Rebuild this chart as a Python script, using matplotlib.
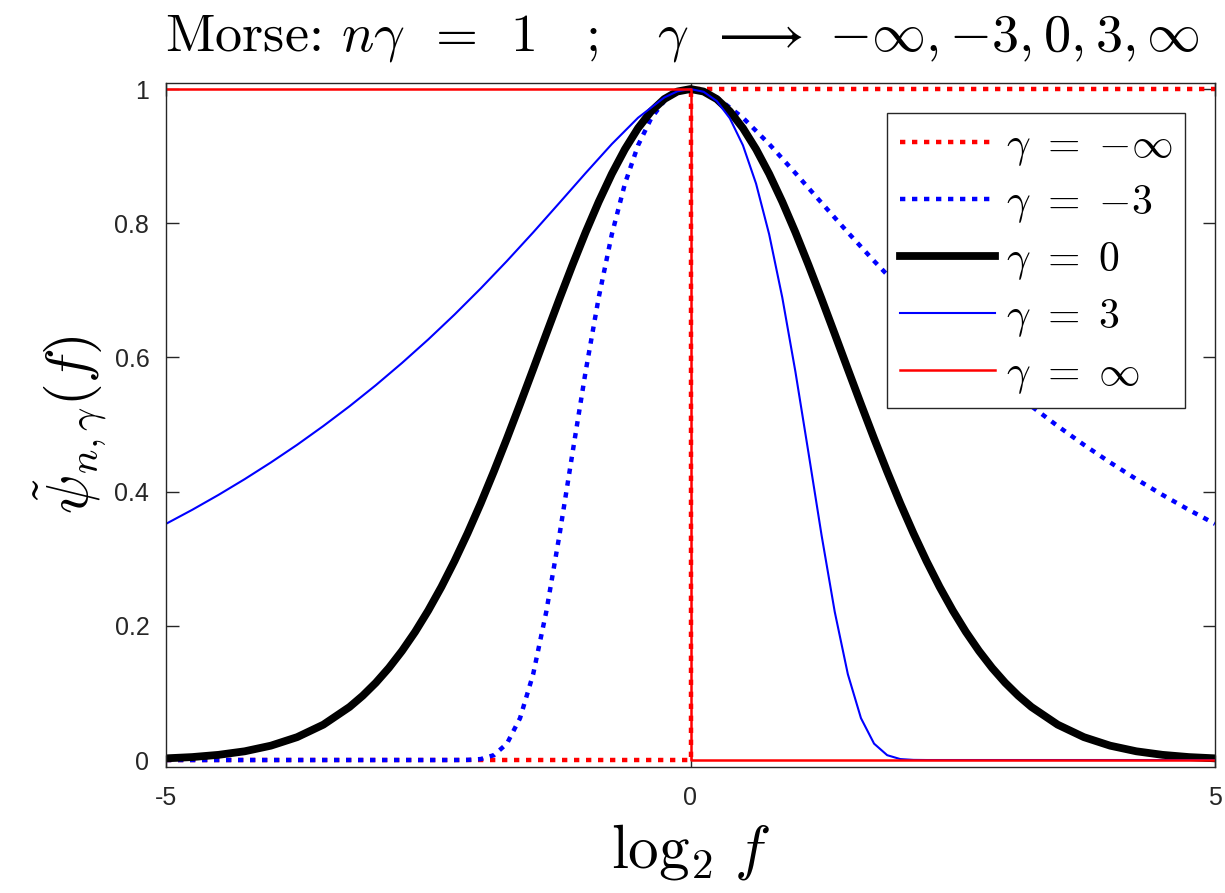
import matplotlib
matplotlib.use("Agg")
import matplotlib.pyplot as plt

plt.rcParams['mathtext.fontset'] = 'cm'
plt.rcParams['font.family'] = ['Liberation Sans', 'DejaVu Sans']

# log2 f grid for the gamma = 0 curve
x_g0 = [-5, -4.75, -4.5, -4.25, -4, -3.75, -3.5, -3.25, -3.125, -3, -2.875,
        -2.75, -2.625, -2.5, -2.375, -2.25, -2.125, -2, -1.875, -1.75,
        -1.625, -1.5, -1.375, -1.25, -1.125, -1, -0.875, -0.75, -0.625,
        -0.5, -0.375, -0.25, -0.125, 0,
        0.125, 0.25, 0.375, 0.5, 0.625, 0.75, 0.875, 1, 1.125, 1.25, 1.375,
        1.5, 1.625, 1.75, 1.875, 2, 2.125, 2.25, 2.375, 2.5, 2.625, 2.75,
        2.875, 3, 3.125, 3.25, 3.5, 3.75, 4, 4.25, 4.5, 4.75, 5]
y_g0 = [0.0025, 0.0044, 0.0077, 0.0130, 0.0214, 0.0341, 0.0527, 0.0791,
        0.0958, 0.1151, 0.1373, 0.1626, 0.1910, 0.2228, 0.2579, 0.2964,
        0.3380, 0.3825, 0.4298, 0.4792, 0.5303, 0.5824, 0.6350, 0.6871,
        0.7378, 0.7865, 0.8320, 0.8736, 0.9104, 0.9417, 0.9668, 0.9851,
        0.9963, 1.0,
        0.9963, 0.9851, 0.9668, 0.9417, 0.9104, 0.8736, 0.8320, 0.7865,
        0.7378, 0.6871, 0.6350, 0.5824, 0.5303, 0.4792, 0.4298, 0.3825,
        0.3380, 0.2964, 0.2579, 0.2228, 0.1910, 0.1626, 0.1373, 0.1151,
        0.0958, 0.0791, 0.0527, 0.0341, 0.0214, 0.0130, 0.0077, 0.0044,
        0.0025]

# gamma = 3
x_g3 = [-5, -4.75, -4.5, -4.25, -4, -3.75, -3.5, -3.25, -3, -2.75, -2.5,
        -2.25, -2, -1.75, -1.5, -1.25, -1, -0.75, -0.5, -0.25, -0.125, 0,
        0.125, 0.25, 0.375, 0.5, 0.625, 0.75, 0.875, 1, 1.125, 1.25, 1.375,
        1.5, 1.625, 1.75, 1.875, 2, 2.125, 2.25, 2.5, 3, 4, 5]
y_g3 = [0.3520, 0.3729, 0.3951, 0.4186, 0.4435, 0.4698, 0.4978, 0.5273,
        0.5586, 0.5918, 0.6268, 0.6638, 0.7028, 0.7437, 0.7863, 0.8303,
        0.8747, 0.9180, 0.9572, 0.9874, 0.9966, 1.0,
        0.9959, 0.9822, 0.9564, 0.9161, 0.8590, 0.7834, 0.6893, 0.5788,
        0.4576, 0.3345, 0.2209, 0.1279, 0.0624, 0.0244, 0.0072, 0.0014,
        0.0002, 0.0, 0.0, 0.0, 0.0, 0.0]

# gamma = -3
x_gm3 = [-5, -4, -3, -2.5, -2.25, -2.125, -2, -1.875, -1.75, -1.625, -1.5,
         -1.375, -1.25, -1.125, -1, -0.875, -0.75, -0.625, -0.5, -0.375,
         -0.25, -0.125, 0, 0.125, 0.25, 0.5, 0.75, 1, 1.25, 1.5, 1.75, 2,
         2.25, 2.5, 2.75, 3, 3.25, 3.5, 3.75, 4, 4.25, 4.5, 4.75, 5]
y_gm3 = [0.0, 0.0, 0.0, 0.0, 0.0, 0.0002, 0.0014, 0.0072, 0.0244, 0.0624,
         0.1279, 0.2209, 0.3345, 0.4576, 0.5788, 0.6893, 0.7834, 0.8590,
         0.9161, 0.9564, 0.9822, 0.9959, 1.0,
         0.9966, 0.9874, 0.9572, 0.9180, 0.8747, 0.8303, 0.7863, 0.7437,
         0.7028, 0.6638, 0.6268, 0.5918, 0.5586, 0.5273, 0.4978, 0.4698,
         0.4435, 0.4186, 0.3951, 0.3729, 0.3520]

# gamma -> +/- infinity: step functions
x_inf = [-5, 0, 0, 5]
y_inf = [1, 1, 0, 0]
y_minf = [0, 0, 1, 1]

fig = plt.figure(figsize=(12.25, 8.93), dpi=100)
ax = fig.add_axes([166/1225, 1 - 767/893, 1049/1225, 684/893])

ax.plot(x_inf, y_minf, color='red', lw=3.2, dashes=(1.2, 1.5),
        label=r'$\gamma\ =\ {-}\infty$')
ax.plot(x_gm3, y_gm3, color='blue', lw=3.2, dashes=(1.2, 1.5),
        label=r'$\gamma\ =\ {-}3$')
ax.plot(x_g0, y_g0, color='black', lw=5.6, solid_joinstyle='round',
        label=r'$\gamma\ =\ 0$')
ax.plot(x_g3, y_g3, color='blue', lw=1.5, label=r'$\gamma\ =\ 3$')
ax.plot(x_inf, y_inf, color='red', lw=1.8, label=r'$\gamma\ =\ \infty$')

ax.set_xlim(-5, 5)
ax.set_ylim(-0.0104, 1.009)
ax.set_xticks([-5, 0, 5])
ax.set_xticklabels(['-5', '0', '5'])
ax.set_yticks([0, 0.2, 0.4, 0.6, 0.8, 1])
ax.set_yticklabels(['0', '0.2', '0.4', '0.6', '0.8', '1'])
ax.tick_params(direction='in', length=9, width=1, labelsize=18,
               colors='#262626', top=True, right=True)
ax.tick_params(axis='x', pad=14)
ax.tick_params(axis='y', pad=12)
for s in ax.spines.values():
    s.set_color('#262626')
    s.set_linewidth(1)

ax.set_xlabel(r'$\log_2\,f$', fontsize=44, labelpad=8)
ax.set_ylabel(r'$\tilde{\psi}_{n,\gamma}(f)$', fontsize=42, labelpad=4)

title = (r'Morse: $n\gamma\ \,=\ \,1\quad;\quad\gamma\ \,\longrightarrow\ '
         r'{-}\infty,{-}3,0,3,\infty$')
fig.text(165/1225, 1 - 50/893, title, fontsize=39, fontfamily='cmr10',
         ha='left', va='baseline')

leg = ax.legend(loc='upper right', bbox_to_anchor=(0.9714, 0.956),
                borderaxespad=0, fontsize=30, handlelength=2.3,
                handletextpad=0.25, labelspacing=0.36, fancybox=False,
                framealpha=1, edgecolor='#262626', borderpad=0.3)
leg.get_frame().set_linewidth(1)

fig.savefig('out.png', dpi=100)
